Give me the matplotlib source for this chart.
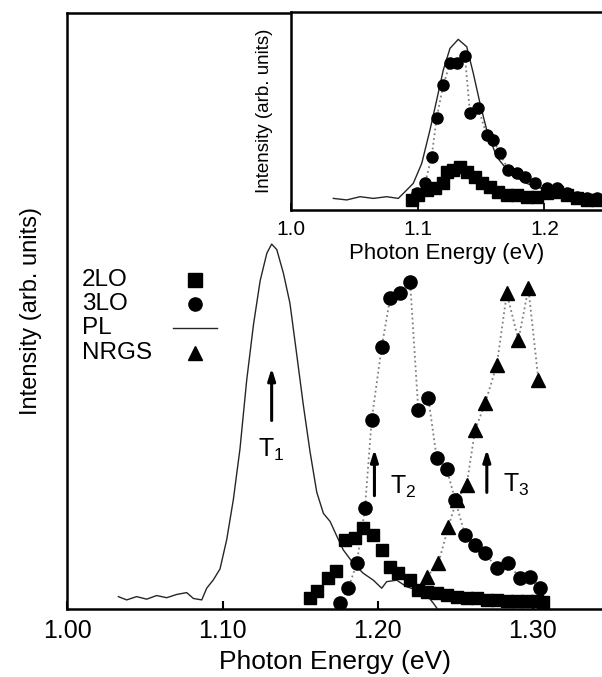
import matplotlib
matplotlib.use("Agg")
import matplotlib.pyplot as plt

plt.rcParams['font.family'] = ['Liberation Sans', 'DejaVu Sans']
plt.rcParams['mathtext.fontset'] = 'custom'
plt.rcParams['mathtext.rm'] = 'Liberation Sans'
plt.rcParams['mathtext.it'] = 'Liberation Sans'

# ---- main panel data (photon energy in eV, intensity normalised to PL peak) ----
pl_e = [1.0328, 1.0382, 1.0446, 1.0511, 1.0575, 1.0640, 1.0705, 1.0769, 1.0812,
        1.0866, 1.0898, 1.0941, 1.0984, 1.1027, 1.1070, 1.1113, 1.1156, 1.1200,
        1.1243, 1.1286, 1.1317, 1.1350, 1.1393, 1.1435, 1.1478, 1.1521, 1.1565,
        1.1608, 1.1651, 1.1694, 1.1737, 1.1779, 1.1844, 1.1908, 1.1973, 1.2027,
        1.2059, 1.2124, 1.2188, 1.2253, 1.2317, 1.2360, 1.2382]
pl_i = [0.034, 0.025, 0.034, 0.027, 0.037, 0.031, 0.040, 0.045, 0.029,
        0.025, 0.057, 0.080, 0.110, 0.190, 0.300, 0.440, 0.627, 0.780,
        0.900, 0.975, 1.000, 0.985, 0.920, 0.838, 0.700, 0.560, 0.430,
        0.320, 0.262, 0.240, 0.200, 0.162, 0.125, 0.098, 0.079, 0.057,
        0.075, 0.079, 0.061, 0.052, 0.038, 0.016, 0.003]

lo2_e = [1.1565, 1.1610, 1.1680, 1.1730, 1.1790, 1.1855, 1.1908, 1.1973, 1.2027,
         1.2081, 1.2134, 1.2210, 1.2263, 1.2317, 1.2382, 1.2446, 1.2511, 1.2575,
         1.2640, 1.2705, 1.2769, 1.2834, 1.2898, 1.2963, 1.3027, 1.3070]
lo2_i = [0.030, 0.050, 0.085, 0.105, 0.189, 0.194, 0.221, 0.203, 0.162,
         0.116, 0.098, 0.079, 0.052, 0.047, 0.043, 0.038, 0.034, 0.029,
         0.029, 0.025, 0.025, 0.023, 0.021, 0.021, 0.021, 0.018]

lo3_e = [1.1758, 1.1812, 1.1866, 1.1919, 1.1962, 1.2027, 1.2081, 1.2145, 1.2210,
         1.2263, 1.2328, 1.2382, 1.2446, 1.2500, 1.2565, 1.2629, 1.2694, 1.2769,
         1.2844, 1.2919, 1.2984, 1.3048]
lo3_i = [0.016, 0.057, 0.125, 0.276, 0.518, 0.719, 0.851, 0.865, 0.897,
         0.545, 0.577, 0.413, 0.385, 0.299, 0.203, 0.175, 0.153, 0.112,
         0.125, 0.084, 0.088, 0.057]

nrgs_e = [1.2317, 1.2392, 1.2457, 1.2511, 1.2575, 1.2629, 1.2694, 1.2769,
          1.2834, 1.2909, 1.2973, 1.3038]
nrgs_i = [0.088, 0.125, 0.225, 0.300, 0.340, 0.490, 0.564, 0.668,
          0.865, 0.737, 0.879, 0.627]

# transitions T1..T3: energy, arrow tail, arrow head
trans_labels = [r'T$_1$', r'T$_2$', r'T$_3$']
trans_e = [1.1317, 1.1980, 1.2705]
trans_y0 = [0.509, 0.303, 0.312]
trans_y1 = [0.668, 0.445, 0.445]

# ---- inset data ----
ipl_e = [1.0334, 1.0440, 1.0545, 1.0650, 1.0755, 1.0847, 1.0900, 1.0965, 1.1032,
         1.1097, 1.1150, 1.1202, 1.1255, 1.1320, 1.1387, 1.1439, 1.1492, 1.1545,
         1.1623, 1.1729, 1.1860, 1.2018, 1.2202, 1.2439]
ipl_i = [0.068, 0.059, 0.078, 0.068, 0.078, 0.068, 0.107, 0.156, 0.273,
         0.469, 0.644, 0.820, 0.947, 1.000, 0.957, 0.801, 0.625, 0.469,
         0.312, 0.215, 0.156, 0.117, 0.088, 0.068]

ilo3_e = [1.0992, 1.1058, 1.1110, 1.1150, 1.1202, 1.1255, 1.1308, 1.1373, 1.1413,
          1.1479, 1.1545, 1.1597, 1.1650, 1.1715, 1.1781, 1.1847, 1.1926, 1.2018,
          1.2097, 1.2176, 1.2255, 1.2334, 1.2413]
ilo3_i = [0.098, 0.156, 0.312, 0.541, 0.732, 0.859, 0.863, 0.902, 0.566,
          0.596, 0.439, 0.410, 0.332, 0.234, 0.215, 0.195, 0.156, 0.127,
          0.127, 0.098, 0.078, 0.068, 0.068]

ilo2_e = [1.0952, 1.1005, 1.1071, 1.1137, 1.1202, 1.1229, 1.1281, 1.1334, 1.1387,
          1.1452, 1.1505, 1.1571, 1.1636, 1.1702, 1.1781, 1.1860, 1.1939, 1.2018,
          1.2097, 1.2176, 1.2255, 1.2334, 1.2413]
ilo2_i = [0.059, 0.088, 0.117, 0.127, 0.156, 0.225, 0.234, 0.254, 0.225,
          0.195, 0.156, 0.137, 0.107, 0.088, 0.088, 0.078, 0.078, 0.098,
          0.107, 0.088, 0.068, 0.059, 0.059]

main_ticks = [1.00, 1.10, 1.20, 1.30]
inset_ticks = [1.0, 1.1, 1.2]

# legend entries
leg_labels = ['2LO', '3LO', 'PL', 'NRGS']
leg_markers = ['s', 'o', None, '^']

fig = plt.figure(figsize=(6.02, 6.77), dpi=100)
ax = fig.add_axes([0.1121, 0.1004, 0.8879, 0.8808])

dot = dict(color='0.5', ls=':', lw=1.3)
ax.plot(pl_e, pl_i, color='0.15', lw=1.0)
ax.plot(lo3_e, lo3_i, **dot)
ax.plot(nrgs_e, nrgs_i, **dot)
ax.plot(lo2_e, lo2_i, 's', color='black', ms=9, ls='none')
ax.plot(lo3_e, lo3_i, 'o', color='black', ms=9.5, ls='none')
ax.plot(nrgs_e, nrgs_i, '^', color='black', ms=9.5, ls='none')

for lab, e, y0, y1 in zip(trans_labels, trans_e, trans_y0, trans_y1):
    ax.annotate('', xy=(e, y1), xytext=(e, y0),
                arrowprops=dict(arrowstyle='-|>,head_width=0.22,head_length=0.7',
                                color='black', lw=2.2))
ax.text(trans_e[0], 0.436, trans_labels[0], ha='center', va='center', fontsize=18)
ax.text(trans_e[1] + 0.010, 0.335, trans_labels[1], ha='left', va='center', fontsize=18)
ax.text(trans_e[2] + 0.0105, 0.340, trans_labels[2], ha='left', va='center', fontsize=18)

# hand-made legend: text left aligned, key on the right
leg_y = [0.5517, 0.5115, 0.4712, 0.4293]
for lab, mk, yy in zip(leg_labels, leg_markers, leg_y):
    ax.text(0.0266, yy, lab, transform=ax.transAxes, ha='left', va='center',
            fontsize=17.5)
    if mk is None:
        ax.plot([0.197, 0.280], [yy, yy], transform=ax.transAxes,
                color='0.15', lw=1.0)
    else:
        ax.plot([0.2385], [yy], mk, transform=ax.transAxes, color='black', ms=9.5)

ax.set_xlim(1.0, 1.3448)
ax.set_ylim(0, 1.634)
ax.set_xticks(main_ticks)
ax.set_xticklabels(['%.2f' % t for t in main_ticks])
ax.set_yticks([])
ax.tick_params(axis='x', direction='in', length=6, width=1.5, labelsize=18, pad=7)
for s in ['left', 'bottom', 'top']:
    ax.spines[s].set_linewidth(1.8)
ax.spines['right'].set_visible(False)
ax.set_xlabel('Photon Energy (eV)', fontsize=19, labelpad=5)
ax.set_ylabel('Intensity (arb. units)', fontsize=17)
ax.yaxis.set_label_coords(-0.048, 0.5)

# ---- inset ----
ins = fig.add_axes([0.4834, 0.6898, 0.5166, 0.2929])
ins.set_facecolor('white')
ins.plot(ipl_e, ipl_i, color='0.15', lw=1.0)
ins.plot(ilo3_e, ilo3_i, **dot)
ins.plot(ilo2_e, ilo2_i, 's', color='black', ms=8, ls='none')
ins.plot(ilo3_e, ilo3_i, 'o', color='black', ms=8, ls='none')
ins.set_xlim(1.0, 1.2455)
ins.set_ylim(0, 1.162)
ins.set_xticks(inset_ticks)
ins.set_xticklabels(['%.1f' % t for t in inset_ticks])
ins.set_yticks([])
ins.tick_params(axis='x', direction='in', length=5, width=1.3, labelsize=15, pad=7)
for s in ['left', 'bottom', 'top']:
    ins.spines[s].set_linewidth(1.8)
ins.spines['right'].set_visible(False)
ins.set_xlabel('Photon Energy (eV)', fontsize=16, labelpad=3)
ins.set_ylabel('Intensity (arb. units)', fontsize=13.5)
ins.yaxis.set_label_coords(-0.058, 0.5)

fig.savefig('out.png', dpi=100)
